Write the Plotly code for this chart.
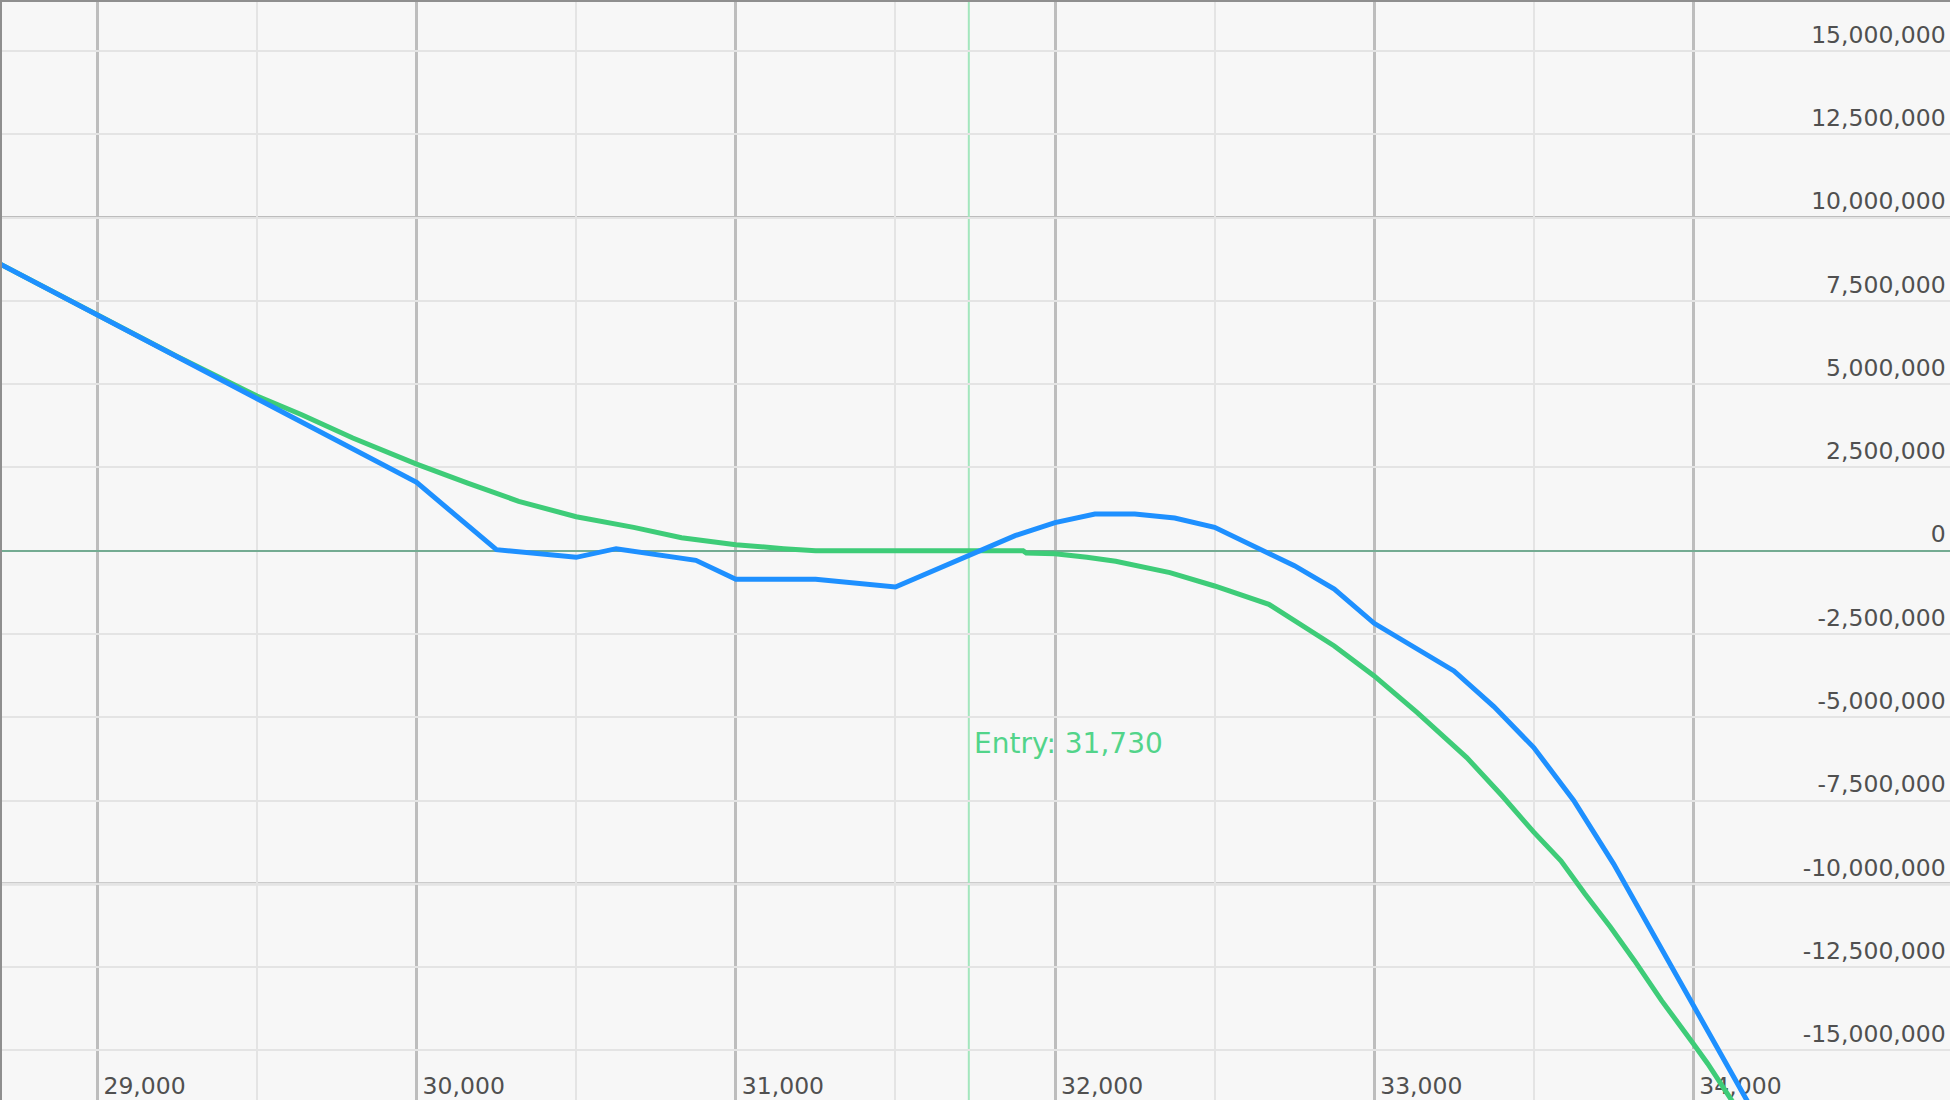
import plotly.graph_objects as go

# ---------------- data ----------------
blue_x = [28650, 29000, 29500, 30000, 30250, 30500, 30625, 30750, 30875, 31000,
          31250, 31500, 31750, 31875, 32000, 32125, 32250, 32375, 32500, 32625,
          32750, 32875, 33000, 33250, 33375, 33500, 33625, 33750, 33875, 34000, 34250]
blue_y = [8830000, 7070000, 4560000, 2050000, 30000, -200000, 60000, -120000, -290000, -860000,
          -860000, -1090000, -40000, 450000, 840000, 1100000, 1100000, 980000, 700000, 140000,
          -450000, -1150000, -2180000, -3610000, -4680000, -5910000, -7500000, -9400000, -11550000, -13700000, -17900000]

green_x = [28650, 28750, 29000, 29250, 29500, 29640, 29800, 30000, 30160, 30320,
           30500, 30680, 30830, 31000, 31150, 31250, 31500, 31750, 31900, 31910,
           32000, 32100, 32190, 32360, 32500, 32670, 32770, 32875, 33000, 33135,
           33290, 33400, 33500, 33585, 33660, 33740, 33815, 33900, 34000, 34045,
           34120, 34200]
green_y = [8830000, 8330000, 7070000, 5830000, 4640000, 4080000, 3380000, 2600000, 2030000, 1480000,
           1020000, 700000, 390000, 180000, 60000, 0, 0, 0, 0, -70000,
           -90000, -200000, -320000, -660000, -1060000, -1610000, -2210000, -2860000, -3760000, -4860000,
           -6210000, -7350000, -8450000, -9310000, -10300000, -11300000, -12300000, -13500000, -14800000, -15400000,
           -16500000, -17600000]

entry_price = 31730
entry_label = "Entry: 31,730"
entry_label_y = -5780000

x_ticks = [29000, 30000, 31000, 32000, 33000, 34000]
x_tick_labels = ["29,000", "30,000", "31,000", "32,000", "33,000", "34,000"]
y_ticks = [15000000, 12500000, 10000000, 7500000, 5000000, 2500000, 0,
           -2500000, -5000000, -7500000, -10000000, -12500000, -15000000]
y_tick_labels = ["15,000,000", "12,500,000", "10,000,000", "7,500,000", "5,000,000", "2,500,000", "0",
                 "-2,500,000", "-5,000,000", "-7,500,000", "-10,000,000", "-12,500,000", "-15,000,000"]
y_major_lines = [10000000, -10000000]

x_range = [28701, 34804]
y_range = [-16490000, 16470000]

# ---------------- figure ----------------
BG = "#f7f7f7"
FONT = dict(family="DejaVu Sans", size=23.5, color="#505050")

fig = go.Figure()
fig.add_trace(go.Scatter(x=green_x, y=green_y, mode="lines",
                         line=dict(color="#3ecc78", width=5), hoverinfo="skip"))
fig.add_trace(go.Scatter(x=blue_x, y=blue_y, mode="lines",
                         line=dict(color="#1e90ff", width=5), hoverinfo="skip"))

for yv in y_major_lines:
    fig.add_shape(type="line", xref="paper", x0=0, x1=1, yref="y", y0=yv, y1=yv,
                  line=dict(color="#bdbdbd", width=3), layer="between")

fig.add_shape(type="line", xref="x", x0=entry_price, x1=entry_price, yref="paper", y0=0, y1=1,
              line=dict(color="#a3e6bd", width=2), layer="between")

fig.add_annotation(x=entry_price, y=entry_label_y, text=entry_label, showarrow=False,
                   xanchor="left", yanchor="middle", xshift=3,
                   font=dict(family="DejaVu Sans", size=28, color="#52d48a"))

fig.update_layout(
    width=1950, height=1100,
    margin=dict(l=0, r=0, t=0, b=0),
    paper_bgcolor=BG, plot_bgcolor=BG,
    showlegend=False,
    font=FONT,
)
fig.update_xaxes(
    range=x_range, tickmode="array", tickvals=x_ticks, ticktext=x_tick_labels,
    ticklabelposition="inside right", ticklabelshift=5, ticks="", showgrid=True,
    gridcolor="#bdbdbd", gridwidth=3,
    minor=dict(dtick=500, tick0=0, showgrid=True, gridcolor="#e4e4e4", gridwidth=2),
    zeroline=False, showline=True, mirror=True, linecolor="#8f8f8f", linewidth=2,
    layer="below traces", tickfont=FONT,
)
fig.update_yaxes(
    range=y_range, side="right", tickmode="array", tickvals=y_ticks, ticktext=y_tick_labels,
    ticklabelposition="inside top", ticklabelstandoff=5, ticks="", showgrid=True,
    gridcolor="#e4e4e4", gridwidth=2,
    zeroline=True, zerolinecolor="#74ab92", zerolinewidth=2,
    showline=True, mirror=True, linecolor="#8f8f8f", linewidth=2,
    layer="below traces", tickfont=FONT,
)

fig.write_html("out.html", config={"displayModeBar": False},
               post_script="document.body.style.margin='0';document.body.style.overflow='hidden';")
